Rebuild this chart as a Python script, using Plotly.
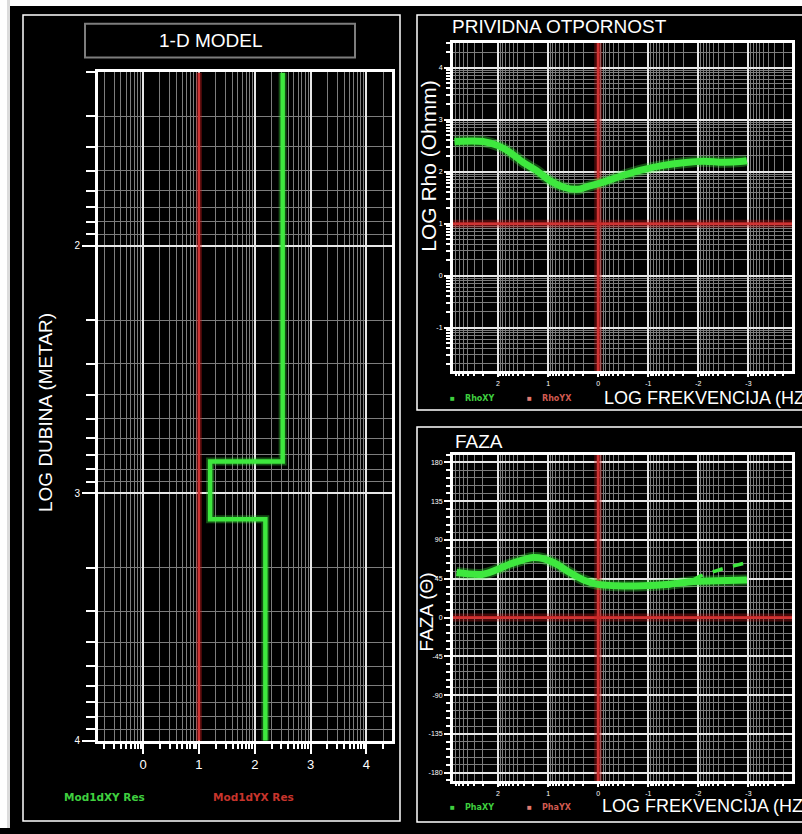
import plotly.graph_objects as go

W, H = 802, 834

# ---------------- data ----------------
# Left panel: 1-D model, resistivity in log10(Ohm m), depths in metres
model_top_depth = 20
layer_bottom_depths = [745, 1275, 10000]
layer_log_res_xy = [2.50, 1.20, 2.19]
model_log_res_yx = 1.0

# Apparent resistivity: log10 frequency (Hz) vs log10 rho (Ohm m)
rho_log_freq = [2.87, 2.30, 2.00, 1.77, 1.50, 1.23, 0.97, 0.70, 0.43, 0.17,
                -0.10, -0.50, -0.90, -1.30, -1.70, -2.10, -2.50, -2.90, -2.97]
rho_xy_log = [2.58, 2.58, 2.50, 2.375, 2.18, 2.02, 1.83, 1.705, 1.66, 1.725,
              1.80, 1.93, 2.04, 2.12, 2.17, 2.20, 2.18, 2.20, 2.21]
rho_yx_log = 1.0

# Phase: log10 frequency vs phase (degrees)
phase_log_freq = [2.83, 2.30, 2.03, 1.77, 1.50, 1.30, 1.10, 0.83, 0.57, 0.30,
                  0.03, -0.37, -0.90, -1.43, -1.90, -2.37, -2.97]
phase_xy = [52.3, 50.4, 55.4, 62.0, 67.0, 69.6, 68.4, 62.0, 52.3, 43.8,
            38.8, 36.9, 36.9, 38.8, 41.9, 42.7, 43.5]
phase_model_log_freq = [-1.90, -2.04, -2.50, -2.97]
phase_model = [44.0, 48.5, 56.9, 63.8]
phase_yx = 0.0
cursor_log_freq = 0.0

# tick labels
depth_tick_text = ["2", "3", "4"]
res_tick_text = ["0", "1", "2", "3", "4"]
freq_tick_text = ["2", "1", "0", "-1", "-2", "-3"]
rho_tick_text = ["-1", "0", "1", "2", "3", "4"]
phase_tick_vals = [-180, -135, -90, -45, 0, 45, 90, 135, 180]

# ---------------- helpers ----------------
FONT = "Liberation Sans, Arial, sans-serif"
GREEN = "#3ee83e"
GREEN_GLOW = "rgba(60,230,60,0.35)"
RED = "rgba(205,40,40,0.9)"
RED_GLOW = "rgba(200,30,30,0.35)"


def PX(x):
    return x / W


def PY(y):
    return 1 - y / H


def minor_vals(lo_exp, hi_exp):
    return [k * 10.0 ** e for e in range(lo_exp, hi_exp) for k in range(2, 10)]


def p10(v):
    return [10.0 ** a for a in v]


fig = go.Figure()

# ---- left panel: 1-D model ----
mx, my = [], []
d_prev = model_top_depth
for d, r in zip(layer_bottom_depths, layer_log_res_xy):
    mx += [10 ** r, 10 ** r]
    my += [d_prev, d]
    d_prev = d

fig.add_trace(go.Scatter(x=[10 ** model_log_res_yx] * 2, y=[model_top_depth, layer_bottom_depths[-1]],
                         mode="lines", line=dict(color=RED_GLOW, width=6), xaxis="x", yaxis="y",
                         hoverinfo="skip"))
fig.add_trace(go.Scatter(x=[10 ** model_log_res_yx] * 2, y=[model_top_depth, layer_bottom_depths[-1]],
                         mode="lines", line=dict(color=RED, width=2.5), xaxis="x", yaxis="y",
                         name="Mod1dYX Res"))
fig.add_trace(go.Scatter(x=mx, y=my, mode="lines", line=dict(color=GREEN_GLOW, width=8),
                         xaxis="x", yaxis="y", hoverinfo="skip"))
fig.add_trace(go.Scatter(x=mx, y=my, mode="lines", line=dict(color=GREEN, width=4.5),
                         xaxis="x", yaxis="y", name="Mod1dXY Res"))

# ---- rho panel ----
fig.add_trace(go.Scatter(x=[1e-5, 1e4], y=[10 ** rho_yx_log] * 2, mode="lines",
                         line=dict(color=RED_GLOW, width=8), xaxis="x2", yaxis="y2", hoverinfo="skip"))
fig.add_trace(go.Scatter(x=[1e-5, 1e4], y=[10 ** rho_yx_log] * 2, mode="lines",
                         line=dict(color=RED, width=3), xaxis="x2", yaxis="y2", name="RhoYX"))
fig.add_trace(go.Scatter(x=[10 ** cursor_log_freq] * 2, y=[1e-3, 1e6], mode="lines",
                         line=dict(color=RED_GLOW, width=8), xaxis="x2", yaxis="y2", hoverinfo="skip"))
fig.add_trace(go.Scatter(x=[10 ** cursor_log_freq] * 2, y=[1e-3, 1e6], mode="lines",
                         line=dict(color=RED, width=3), xaxis="x2", yaxis="y2", hoverinfo="skip"))
fig.add_trace(go.Scatter(x=p10(rho_log_freq), y=p10(rho_xy_log), mode="lines",
                         line=dict(color=GREEN_GLOW, width=11, shape="spline"), xaxis="x2", yaxis="y2",
                         hoverinfo="skip"))
fig.add_trace(go.Scatter(x=p10(rho_log_freq), y=p10(rho_xy_log), mode="lines",
                         line=dict(color=GREEN, width=7, shape="spline"), xaxis="x2", yaxis="y2",
                         name="RhoXY"))

# ---- phase panel ----
fig.add_trace(go.Scatter(x=[1e-5, 1e4], y=[phase_yx] * 2, mode="lines",
                         line=dict(color=RED_GLOW, width=8), xaxis="x3", yaxis="y3", hoverinfo="skip"))
fig.add_trace(go.Scatter(x=[1e-5, 1e4], y=[phase_yx] * 2, mode="lines",
                         line=dict(color=RED, width=3), xaxis="x3", yaxis="y3", name="PhaYX"))
fig.add_trace(go.Scatter(x=[10 ** cursor_log_freq] * 2, y=[-400, 400], mode="lines",
                         line=dict(color=RED_GLOW, width=8), xaxis="x3", yaxis="y3", hoverinfo="skip"))
fig.add_trace(go.Scatter(x=[10 ** cursor_log_freq] * 2, y=[-400, 400], mode="lines",
                         line=dict(color=RED, width=3), xaxis="x3", yaxis="y3", hoverinfo="skip"))
fig.add_trace(go.Scatter(x=p10(phase_model_log_freq), y=phase_model, mode="lines",
                         line=dict(color=GREEN, width=3.5, dash="dash"), xaxis="x3", yaxis="y3",
                         hoverinfo="skip"))
fig.add_trace(go.Scatter(x=p10(phase_log_freq), y=phase_xy, mode="lines",
                         line=dict(color=GREEN_GLOW, width=11, shape="spline"), xaxis="x3", yaxis="y3",
                         hoverinfo="skip"))
fig.add_trace(go.Scatter(x=p10(phase_log_freq), y=phase_xy, mode="lines",
                         line=dict(color=GREEN, width=7, shape="spline"), xaxis="x3", yaxis="y3",
                         name="PhaXY"))

# ---------------- axes ----------------
MAJOR_GRID = "#e6e6e6"
MINOR_GRID = "#7d7d7d"


def axis_common(**kw):
    d = dict(showline=True, linecolor="white", linewidth=3, mirror=True, zeroline=False,
             showgrid=True, gridcolor=MAJOR_GRID, gridwidth=1.5,
             ticks="outside", tickcolor="white", tickwidth=1.5,
             tickfont=dict(family=FONT, color="white", size=7))
    d.update(kw)
    return d


left_x = axis_common(
    domain=[PX(98), PX(392)], anchor="y", type="log", range=[-0.81, 4.46],
    tickmode="array", tickvals=[1, 10, 100, 1000, 10000], ticktext=res_tick_text,
    ticklen=10, tickfont=dict(family=FONT, color="white", size=13),
    minor=dict(tickmode="array", tickvals=minor_vals(-1, 5), ticks="outside", ticklen=5,
               tickcolor="white", showgrid=True, gridcolor=MINOR_GRID, gridwidth=1))
left_y = axis_common(
    domain=[PY(746), PY(73)], anchor="x", type="log", range=[4, 1.30103],
    tickmode="array", tickvals=[100, 1000, 10000], ticktext=depth_tick_text,
    ticklen=13, tickfont=dict(family=FONT, color="white", size=10),
    minor=dict(tickmode="array", tickvals=minor_vals(1, 4), ticks="outside", ticklen=9,
               tickcolor="white", showgrid=True, gridcolor=MINOR_GRID, gridwidth=1))

rho_x = axis_common(
    domain=[PX(453), PX(792)], anchor="y2", type="log", range=[2.9, -3.87],
    tickmode="array", tickvals=[100, 10, 1, 0.1, 0.01, 0.001], ticktext=freq_tick_text,
    ticklen=3,
    minor=dict(tickmode="array", tickvals=minor_vals(-4, 3), ticks="outside", ticklen=2,
               tickcolor="white", showgrid=True, gridcolor=MINOR_GRID, gridwidth=1))
rho_y = axis_common(
    domain=[PY(374), PY(43)], anchor="x2", type="log", range=[-1.84, 4.48],
    tickmode="array", tickvals=[0.1, 1, 10, 100, 1000, 10000], ticktext=rho_tick_text,
    ticklen=6,
    minor=dict(tickmode="array", tickvals=minor_vals(-2, 5), ticks="outside", ticklen=4,
               tickcolor="white", showgrid=True, gridcolor=MINOR_GRID, gridwidth=1))

ph_x = axis_common(
    domain=[PX(453), PX(792)], anchor="y3", type="log", range=[2.9, -3.87],
    tickmode="array", tickvals=[100, 10, 1, 0.1, 0.01, 0.001], ticktext=freq_tick_text,
    ticklen=3,
    minor=dict(tickmode="array", tickvals=minor_vals(-4, 3), ticks="outside", ticklen=2,
               tickcolor="white", showgrid=True, gridcolor=MINOR_GRID, gridwidth=1))
ph_y = axis_common(
    domain=[PY(787), PY(458)], anchor="x3", range=[-190, 189],
    tickmode="array", tickvals=phase_tick_vals, ticktext=[str(v) for v in phase_tick_vals],
    ticklen=6,
    minor=dict(dtick=9, tick0=0, ticks="outside", ticklen=4,
               tickcolor="white", showgrid=True, gridcolor=MINOR_GRID, gridwidth=1))

# ---------------- shapes ----------------
shapes = [
    # white / grey margins of the screenshot
    dict(type="rect", xref="paper", yref="paper", x0=0, x1=1, y0=PY(6), y1=1,
         fillcolor="white", line=dict(width=0), layer="above"),
    dict(type="rect", xref="paper", yref="paper", x0=0, x1=PX(10), y0=0, y1=1,
         fillcolor="#dcdcdc", line=dict(width=0), layer="above"),
    dict(type="rect", xref="paper", yref="paper", x0=0, x1=PX(7), y0=0, y1=1,
         fillcolor="white", line=dict(width=0), layer="above"),
    # panel frames
    dict(type="rect", xref="paper", yref="paper", x0=PX(23), x1=PX(400), y0=PY(827), y1=PY(15),
         line=dict(color="white", width=1.5), layer="below"),
    dict(type="rect", xref="paper", yref="paper", x0=PX(417), x1=PX(812), y0=PY(413), y1=PY(15),
         line=dict(color="white", width=1.5), layer="below"),
    dict(type="rect", xref="paper", yref="paper", x0=PX(417), x1=PX(812), y0=PY(828), y1=PY(430),
         line=dict(color="white", width=1.5), layer="below"),
    # 1-D MODEL title box
    dict(type="rect", xref="paper", yref="paper", x0=PX(85), x1=PX(355), y0=PY(58), y1=PY(24),
         line=dict(color="#7d7d7d", width=2), layer="below"),
]


def ann(text, x, y, size=19, color="white", xanchor="center", angle=0, family=FONT):
    return dict(text=text, x=PX(x), y=PY(y), xref="paper", yref="paper", showarrow=False,
                xanchor=xanchor, yanchor="middle", textangle=angle,
                font=dict(family=family, size=size, color=color))


LEG_FONT = "DejaVu Sans, sans-serif"
annotations = [
    ann("1-D MODEL", 210, 41, size=19),
    ann("LOG DUBINA (METAR)", 45, 416, size=19, angle=-90),
    ann("<b>Mod1dXY Res</b>", 104, 803, size=10.5, color="#3fcf3f", family=LEG_FONT),
    ann("<b>Mod1dYX Res</b>", 253, 803, size=10.5, color="#c8342c", family=LEG_FONT),
    ann("PRIVIDNA OTPORNOST", 450, 27, size=19, xanchor="left"),
    ann("LOG Rho (Ohmm)", 429, 167, size=21, angle=-90),
    ann("<b>■</b>", 453, 401, size=8, color="#3fcf3f"),
    ann("<b>RhoXY</b>", 463, 401, size=8, color="#3fcf3f", xanchor="left", family=LEG_FONT),
    ann("<b>■</b>", 529, 401, size=8, color="#e07a70"),
    ann("<b>RhoYX</b>", 540, 401, size=8, color="#d05a50", xanchor="left", family=LEG_FONT),
    ann("LOG FREKVENCIJA (HZ)", 602, 401, size=18, xanchor="left"),
    ann("FAZA", 453, 445, size=19, xanchor="left"),
    ann("FAZA (Θ)", 427, 617, size=19, angle=-90),
    ann("<b>■</b>", 453, 813, size=8, color="#3fcf3f"),
    ann("<b>PhaXY</b>", 463, 813, size=8, color="#3fcf3f", xanchor="left", family=LEG_FONT),
    ann("<b>■</b>", 529, 813, size=8, color="#e07a70"),
    ann("<b>PhaYX</b>", 540, 813, size=8, color="#d05a50", xanchor="left", family=LEG_FONT),
    ann("LOG FREKVENCIJA (HZ)", 600, 812, size=18, xanchor="left"),
]

fig.update_layout(
    width=W, height=H, margin=dict(l=0, r=0, t=0, b=0),
    paper_bgcolor="black", plot_bgcolor="black", showlegend=False,
    font=dict(family=FONT, color="white"),
    xaxis=left_x, yaxis=left_y, xaxis2=rho_x, yaxis2=rho_y, xaxis3=ph_x, yaxis3=ph_y,
    shapes=shapes, annotations=annotations,
)

# remove the browser's default 8px body margin so the figure fills the window exactly
fig.write_html("out.html", config={"displayModeBar": False},
               post_script="document.body.style.margin='0';document.body.style.overflow='hidden';")
